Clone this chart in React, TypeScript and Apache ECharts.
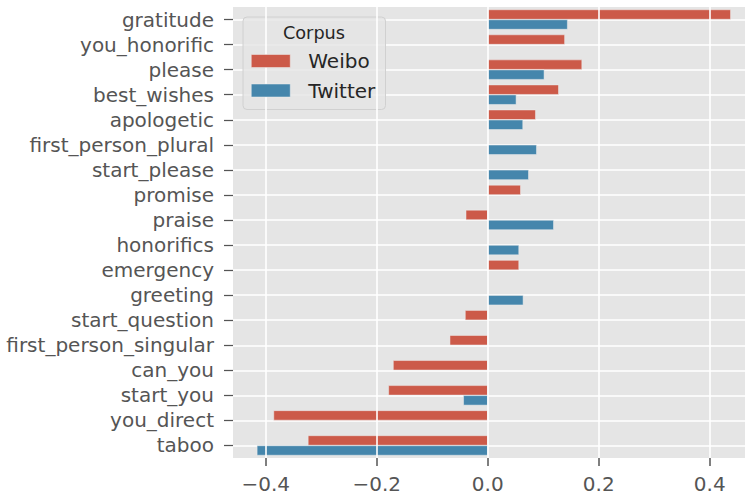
import React, { useEffect, useRef } from "react";
import * as echarts from "echarts";

const categories = [
  "gratitude",
  "you_honorific",
  "please",
  "best_wishes",
  "apologetic",
  "first_person_plural",
  "start_please",
  "promise",
  "praise",
  "honorifics",
  "emergency",
  "greeting",
  "start_question",
  "first_person_singular",
  "can_you",
  "start_you",
  "you_direct",
  "taboo",
];

const weibo: (number | null)[] = [
  0.438, 0.139, 0.17, 0.128, 0.0865, null, null, 0.0595, -0.0396, null, 0.0564,
  null, -0.0409, -0.0685, -0.1706, -0.179, -0.386, -0.324,
];

const twitter: (number | null)[] = [
  0.144, null, 0.102, 0.0516, 0.0636, 0.0883, 0.0739, null, 0.119, 0.0564, null,
  0.0642, null, null, null, -0.044, null, -0.416,
];

const xTicks = [-0.4, -0.2, 0, 0.2, 0.4];
const seriesNames = ["Weibo", "Twitter"];
const legendTitle = "Corpus";

const X_MIN = -0.459;
const X_MAX = 0.4636;
const FONT = "DejaVu Sans";
const FS = 20;

export default function App() {
  const ref = useRef<HTMLDivElement>(null);
  useEffect(() => {
    if (!ref.current) return;
    const chart = echarts.init(ref.current, undefined, { renderer: "svg" });
    const barCommon = {
      type: "bar",
      barGap: "0%",
      barCategoryGap: "20%",
      itemStyle: { borderColor: "#EEEEEE", borderWidth: 0.5 },
      z: 3,
    };
    chart.setOption({
      animation: false,
      backgroundColor: "#ffffff",
      textStyle: { fontFamily: FONT },
      grid: {
        left: 233,
        right: 2,
        top: 7,
        bottom: 39,
        show: true,
        backgroundColor: "#E5E5E5",
        borderWidth: 0,
      },
      legend: {
        orient: "vertical",
        left: 251,
        top: 51,
        itemWidth: 39,
        itemHeight: 13,
        itemGap: 9.5,
        padding: 0,
        icon: "rect",
        data: seriesNames,
        itemStyle: { borderColor: "#EEEEEE", borderWidth: 0.5 },
        textStyle: {
          fontFamily: FONT,
          fontSize: FS,
          color: "#262626",
          lineHeight: 20,
          padding: [0, 0, 0, 13],
        },
        z: 10,
      },
      graphic: [
        {
          type: "rect",
          shape: { x: 243, y: 17, width: 142.5, height: 92.5, r: 4 },
          style: { fill: "rgba(229,229,229,0.8)", stroke: "#D0D0D0", lineWidth: 1 },
          z: 9,
          silent: true,
        },
        {
          type: "text",
          x: 314,
          y: 32.5,
          style: {
            text: legendTitle,
            fontFamily: FONT,
            fontSize: 17.7,
            fill: "#262626",
            align: "center",
            verticalAlign: "middle",
          },
          z: 10,
          silent: true,
        },
      ],
      xAxis: {
        type: "value",
        min: X_MIN,
        max: X_MAX,
        z: 10,
        axisLine: { show: false, onZero: false },
        axisTick: {
          show: true,
          inside: false,
          length: 8,
          customValues: xTicks,
          lineStyle: { color: "#555555", width: 1.5 },
        },
        axisLabel: {
          customValues: xTicks,
          margin: 16,
          fontFamily: FONT,
          fontSize: FS,
          color: "#555555",
          formatter: (v: number) => v.toFixed(1).replace("-", "\u2212"),
        },
        splitLine: {
          show: true,
          customValues: xTicks,
          lineStyle: { color: "#ffffff", width: 1.6 },
        },
      },
      yAxis: {
        type: "category",
        data: categories,
        inverse: true,
        axisLine: { show: false, onZero: false },
        axisTick: {
          show: true,
          interval: 0,
          alignWithLabel: true,
          length: 9,
          lineStyle: { color: "#555555", width: 1.25 },
        },
        axisLabel: {
          interval: 0,
          margin: 19,
          fontFamily: FONT,
          fontSize: FS,
          color: "#555555",
        },
        splitLine: {
          show: true,
          interval: 0,
          alignWithLabel: true,
          lineStyle: { color: "#ffffff", width: 1.6 },
        },
      },
      series: [
        {
          ...barCommon,
          name: seriesNames[0],
          data: weibo,
          itemStyle: { ...barCommon.itemStyle, color: "#CC5A49" },
        },
        {
          ...barCommon,
          name: seriesNames[1],
          data: twitter,
          itemStyle: { ...barCommon.itemStyle, color: "#4586AC" },
        },
      ],
    });
    return () => chart.dispose();
  }, []);
  return (
    <div
      ref={ref}
      style={{ position: "fixed", left: 0, top: 0, width: 747, height: 497 }}
    />
  );
}
